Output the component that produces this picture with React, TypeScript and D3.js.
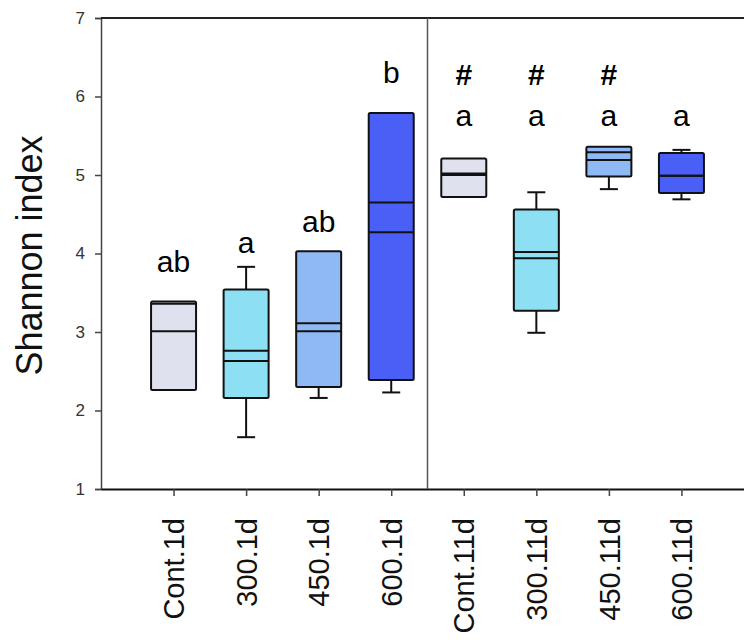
import * as d3 from "d3";
import { useEffect, useRef } from "react";

// groups on the x axis
const groups = ["Cont.1d", "300.1d", "450.1d", "600.1d", "Cont.11d", "300.11d", "450.11d", "600.11d"];

// box statistics
const whiskerLow = [2.26, 1.66, 2.16, 2.23, 4.72, 2.99, 4.82, 4.69];
const q1 = [2.26, 2.16, 2.30, 2.39, 4.72, 3.27, 4.98, 4.77];
const median = [3.01, 2.63, 3.01, 4.27, 5.0, 3.94, 5.19, 4.99];
const mean = [3.36, 2.76, 3.11, 4.65, 5.02, 4.02, 5.29, 4.99];
const q3 = [3.39, 3.54, 4.03, 5.79, 5.21, 4.56, 5.36, 5.28];
const whiskerHigh = [3.39, 3.83, 4.03, 5.79, 5.21, 4.78, 5.36, 5.32];

// significance letters and where they sit (in y units)
const letters = ["ab", "a", "ab", "b", "a", "a", "a", "a"];
const letterAt = [3.76, 4.01, 4.27, 6.17, 5.62, 5.62, 5.62, 5.62];
const hashes = ["", "", "", "", "#", "#", "#", ""];
const hashAt = 6.15;

const yTicks = [1, 2, 3, 4, 5, 6, 7];
const fills = ["#dfe1ee", "#8de0f4", "#8fb9f5", "#4a5ff6", "#dfe1ee", "#8de0f4", "#8fb9f5", "#4a5ff6"];

const W = 744;
const H = 644;
const margin = { top: 18, left: 101, bottom: 155 };
const plotRight = 754;

const App = () => {
    const ref = useRef(null);

    useEffect(() => {
        const svg = d3.select(ref.current);
        svg.selectAll("*").remove();

        const font = "'Liberation Sans', Arial, sans-serif";
        const bottom = H - margin.bottom;

        const x = d3.scalePoint().domain(groups).range([margin.left, plotRight]).padding(1);
        const y = d3.scaleLinear().domain([1, 7]).range([bottom, margin.top]);

        // y axis
        const yAxis = svg.append("g")
            .attr("transform", `translate(${margin.left},0)`)
            .call(d3.axisLeft(y).tickValues(yTicks).tickSize(6).tickPadding(10).tickFormat(d3.format("d")));
        yAxis.select(".domain").attr("stroke", "#444").attr("stroke-width", 1.5);
        yAxis.selectAll(".tick line").attr("stroke", "#444").attr("stroke-width", 1.5);
        yAxis.selectAll(".tick text").attr("font-family", font).attr("font-size", 17).attr("fill", "#333");

        // x axis
        const xAxis = svg.append("g")
            .attr("transform", `translate(0,${bottom})`)
            .call(d3.axisBottom(x).tickSize(7).tickSizeOuter(0));
        xAxis.select(".domain").attr("stroke", "#111").attr("stroke-width", 2);
        xAxis.selectAll(".tick line").attr("stroke", "#444").attr("stroke-width", 1.5);
        xAxis.selectAll(".tick text")
            .attr("font-family", font)
            .attr("font-size", 29)
            .attr("fill", "#111")
            .attr("transform", "rotate(-90)")
            .attr("text-anchor", "end")
            .attr("x", -29)
            .attr("y", 0)
            .attr("dy", "0.35em");

        // top border
        svg.append("line")
            .attr("x1", margin.left).attr("x2", W)
            .attr("y1", y(7)).attr("y2", y(7))
            .attr("stroke", "#222").attr("stroke-width", 2);

        // divider between 1d and 11d
        const divX = (x("600.1d") + x("Cont.11d")) / 2;
        svg.append("line")
            .attr("x1", divX).attr("x2", divX)
            .attr("y1", y(7)).attr("y2", bottom)
            .attr("stroke", "#555").attr("stroke-width", 1.5);

        // y title
        svg.append("text")
            .attr("transform", `translate(29,${(y(7) + bottom) / 2 + 2}) rotate(-90)`)
            .attr("text-anchor", "middle")
            .attr("dy", "0.35em")
            .attr("font-family", font)
            .attr("font-size", 36)
            .attr("fill", "#111")
            .text("Shannon index");

        const boxW = 45;
        const capW = 18;

        groups.forEach((g, i) => {
            const cx = x(g);
            const grp = svg.append("g");

            // whiskers
            if (whiskerHigh[i] > q3[i]) {
                grp.append("line").attr("x1", cx).attr("x2", cx)
                    .attr("y1", y(q3[i])).attr("y2", y(whiskerHigh[i]))
                    .attr("stroke", "#111").attr("stroke-width", 2);
                grp.append("line").attr("x1", cx - capW / 2).attr("x2", cx + capW / 2)
                    .attr("y1", y(whiskerHigh[i])).attr("y2", y(whiskerHigh[i]))
                    .attr("stroke", "#111").attr("stroke-width", 2);
            }
            if (whiskerLow[i] < q1[i]) {
                grp.append("line").attr("x1", cx).attr("x2", cx)
                    .attr("y1", y(q1[i])).attr("y2", y(whiskerLow[i]))
                    .attr("stroke", "#111").attr("stroke-width", 2);
                grp.append("line").attr("x1", cx - capW / 2).attr("x2", cx + capW / 2)
                    .attr("y1", y(whiskerLow[i])).attr("y2", y(whiskerLow[i]))
                    .attr("stroke", "#111").attr("stroke-width", 2);
            }

            // box
            grp.append("rect")
                .attr("x", cx - boxW / 2)
                .attr("y", y(q3[i]))
                .attr("width", boxW)
                .attr("height", y(q1[i]) - y(q3[i]))
                .attr("rx", 1.5)
                .attr("fill", fills[i])
                .attr("stroke", "#111")
                .attr("stroke-width", 2);

            // median and mean lines
            [median[i], mean[i]].forEach(v => {
                grp.append("line")
                    .attr("x1", cx - boxW / 2).attr("x2", cx + boxW / 2)
                    .attr("y1", y(v)).attr("y2", y(v))
                    .attr("stroke", "#111").attr("stroke-width", 2);
            });

            // letters
            svg.append("text")
                .attr("x", cx).attr("y", y(letterAt[i]))
                .attr("text-anchor", "middle")
                .attr("font-family", font)
                .attr("font-size", 30)
                .attr("fill", "#000")
                .text(letters[i]);

            if (hashes[i]) {
                svg.append("text")
                    .attr("x", cx).attr("y", y(hashAt))
                    .attr("text-anchor", "middle")
                    .attr("font-family", font)
                    .attr("font-size", 30)
                    .attr("font-weight", "bold")
                    .attr("fill", "#000")
                    .text(hashes[i]);
            }
        });
    }, []);

    return (
        <svg ref={ref} width={W} height={H}
            style={{ position: "absolute", left: 0, top: 0, background: "#fff" }}></svg>
    );
};

export default App;
